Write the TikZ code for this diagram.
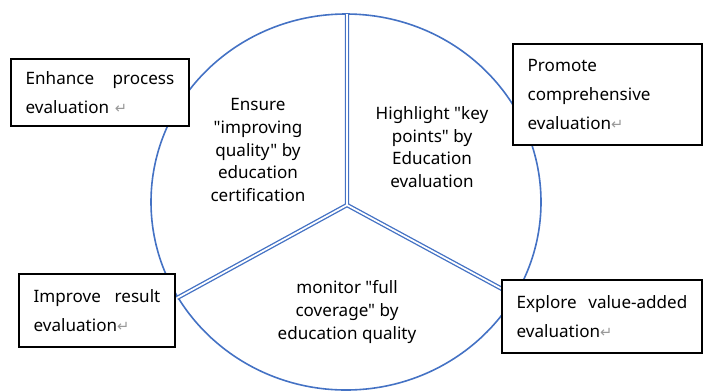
\documentclass[tikz,border=0pt]{standalone}
\usepackage{fontspec}
\setmainfont{Noto Sans}[Ligatures=TeXOff]
\newfontfamily\markfont{DejaVu Sans}
\usetikzlibrary{positioning}
\definecolor{pieblue}{HTML}{4472C4}
\newcommand{\retmark}{{\markfont\color{black!40}\fontsize{11}{11}\selectfont\char"21B5}}

\begin{document}
\begin{tikzpicture}[x=0.75pt,y=-0.75pt,
    sector/.style={draw=pieblue,line width=1.2pt},
    divider/.style={draw=pieblue,line width=1pt,double=white,double distance=1.3pt},
    box/.style={draw=black,line width=0.9pt,fill=white,align=left,inner xsep=11pt,
      font=\fontsize{12.8}{21.5}\selectfont},
    inlabel/.style={align=center,font=\fontsize{12.8}{16.9}\selectfont}]
    \useasboundingbox (0,0) rectangle (703,390);
    % the circle and its three parts
    \draw[sector] (346,202) ellipse [x radius=195, y radius=188];
    \coordinate (mid)   at (347,205);
    \coordinate (top)   at (347,14);
    \coordinate (left)  at (177,298);
    \coordinate (right) at (515,296);
    \path[divider] (mid) -- (top)
                   (mid) -- (left)
                   (mid) -- (right);
    \node[inlabel] (certify)  at (258,150) {Ensure\\"improving\\quality" by\\education\\certification};
    \node[inlabel] (keypts)   at (432,147) {Highlight "key\\points" by\\Education\\evaluation};
    \node[inlabel] (coverage) at (347,312) {monitor "full\\coverage" by\\education quality};
    % side boxes
    \node[box,text width=111.5pt,minimum height=50.25pt] (process) at (100,92.5)
      {Enhance\hfill process\\evaluation \retmark};
    \node[box,text width=119.75pt,minimum height=75.75pt] (compre) at (607.5,94.5)
      {Promote\\comprehensive\\evaluation\retmark};
    \node[box,text width=95pt,minimum height=54.75pt] (result) at (97,310.5)
      {Improve\hfill result\\evaluation\retmark};
    \node[box,text width=128pt,minimum height=54.75pt] (valadd) at (602,316.5)
      {Explore\hfill value-added\\evaluation\retmark};
\end{tikzpicture}
\end{document}
